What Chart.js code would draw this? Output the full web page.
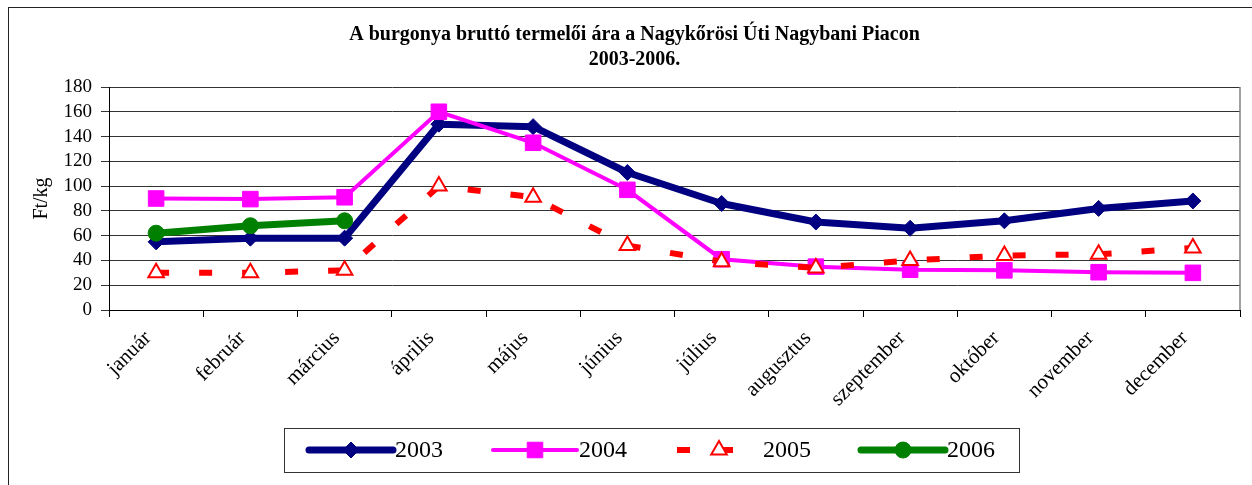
<!DOCTYPE html>
<html>
<head>
<meta charset="utf-8">
<script src="https://cdn.jsdelivr.net/npm/chart.js@4/dist/chart.umd.min.js"></script>
<style>
  body { margin: 0; background: #fff; }
  canvas { display: block; }
</style>
</head>
<body>
<canvas id="myLineChart" width="1252" height="485"></canvas>
<script>
// Burgonya ara, Ft/kg
var months = ["január", "február", "március", "április", "május", "június",
              "július", "augusztus", "szeptember", "október", "november", "december"];
var years = ["2003", "2004", "2005", "2006"];
var v2003 = [55, 58, 58, 150, 148, 111, 86, 71, 66, 72, 82, 88];
var v2004 = [90, 89.5, 91, 160, 135, 97, 41, 35, 32.5, 32, 30.5, 30];
var v2005 = [30, 30, 32, 100, 91, 52, 39, 34, 40, 44, 45, 50];
var v2006 = [62, 68, 72, null, null, null, null, null, null, null, null, null];
var yTicks = [0, 20, 40, 60, 80, 100, 120, 140, 160, 180];

var SERIF = "'Liberation Serif', 'Times New Roman', serif";

// draws one marker shape, used by the legend
function drawMarker(ctx, style, x, y, r, fill, stroke, bw) {
    ctx.save();
    ctx.beginPath();
    if (style == "rectRot") {
        ctx.moveTo(x, y - r); ctx.lineTo(x + r, y); ctx.lineTo(x, y + r); ctx.lineTo(x - r, y);
        ctx.closePath();
    } else if (style == "rect") {
        var s = r * Math.SQRT1_2;
        ctx.rect(x - s, y - s, 2 * s, 2 * s);
    } else if (style == "triangle") {
        ctx.moveTo(x, y - r);
        ctx.lineTo(x + r * Math.sin(2 * Math.PI / 3), y - r * Math.cos(2 * Math.PI / 3));
        ctx.lineTo(x + r * Math.sin(4 * Math.PI / 3), y - r * Math.cos(4 * Math.PI / 3));
        ctx.closePath();
    } else {
        ctx.arc(x, y, r, 0, Math.PI * 2);
    }
    ctx.fillStyle = fill;
    ctx.fill();
    ctx.lineWidth = bw;
    ctx.strokeStyle = stroke;
    ctx.stroke();
    ctx.restore();
}

var framePlugin = {
    id: "frame",
    beforeDatasetsDraw: function(chart) {
        var ctx = chart.ctx, a = chart.chartArea;
        ctx.save();
        ctx.strokeStyle = "#808080";
        ctx.lineWidth = 1.5;
        ctx.beginPath();
        ctx.moveTo(a.right, a.top);
        ctx.lineTo(a.right, a.bottom);
        ctx.stroke();
        ctx.restore();
    },
    afterDraw: function(chart) {
        var ctx = chart.ctx;
        ctx.save();
        // outer chart border
        ctx.strokeStyle = "#222";
        ctx.lineWidth = 1;
        ctx.strokeRect(8.5, 7.5, 2000, 1000);

        // legend box
        var bx = 284, by = 428, bw = 735, bh = 44;
        ctx.strokeStyle = "#333";
        ctx.strokeRect(bx + 0.5, by + 0.5, bw, bh);
        var cy = by + bh / 2;
        chart.data.datasets.forEach(function(ds, i) {
            var x0 = bx + 25 + i * 184;
            ctx.save();
            ctx.strokeStyle = ds.borderColor;
            ctx.lineWidth = ds.borderWidth;
            ctx.lineCap = ds.borderDash ? "butt" : "round";
            ctx.setLineDash(ds.borderDash || []);
            ctx.beginPath();
            ctx.moveTo(x0, cy);
            ctx.lineTo(x0 + 84, cy);
            ctx.stroke();
            ctx.restore();
            drawMarker(ctx, ds.pointStyle, x0 + 42, cy, ds.pointRadius,
                       ds.pointBackgroundColor, ds.pointBorderColor, ds.pointBorderWidth);
            ctx.fillStyle = "#000";
            ctx.font = "24px " + SERIF;
            ctx.textBaseline = "middle";
            ctx.textAlign = "left";
            ctx.fillText(ds.label, x0 + 86, cy + 1);
        });
        ctx.restore();
    }
};

var ctx = document.getElementById("myLineChart").getContext("2d");
var myLineChart = new Chart(ctx, {
    type: "line",
    data: {
        labels: months,
        datasets: [{
            label: years[0],
            data: v2003,
            borderColor: "#000080",
            backgroundColor: "#000080",
            borderWidth: 7,
            borderJoinStyle: "round",
            pointStyle: "rectRot",
            pointRadius: 8,
            pointBackgroundColor: "#000080",
            pointBorderColor: "#000080",
            pointBorderWidth: 1,
            order: 4
        }, {
            label: years[1],
            data: v2004,
            borderColor: "#ff00ff",
            backgroundColor: "#ff00ff",
            borderWidth: 4,
            pointStyle: "rect",
            pointRadius: 11,
            pointBackgroundColor: "#ff00ff",
            pointBorderColor: "#ff00ff",
            pointBorderWidth: 1,
            order: 3
        }, {
            label: years[2],
            data: v2005,
            borderColor: "#ff0000",
            backgroundColor: "#ff0000",
            borderWidth: 6,
            borderDash: [13, 30],
            borderCapStyle: "butt",
            pointStyle: "triangle",
            pointRadius: 9,
            pointBackgroundColor: "#ffffff",
            pointBorderColor: "#ff0000",
            pointBorderWidth: 2,
            order: 2
        }, {
            label: years[3],
            data: v2006,
            borderColor: "#008000",
            backgroundColor: "#008000",
            borderWidth: 7,
            pointStyle: "circle",
            pointRadius: 8,
            pointBackgroundColor: "#008000",
            pointBorderColor: "#008000",
            pointBorderWidth: 1,
            order: 1
        }]
    },
    options: {
        responsive: false,
        animation: false,
        spanGaps: false,
        layout: { padding: { top: 0, left: 23, right: 6, bottom: 75 } },
        elements: { line: { tension: 0 } },
        plugins: {
            legend: { display: false },
            tooltip: { enabled: false },
            title: {
                display: true,
                text: ["A burgonya bruttó termelői ára a Nagykőrösi Úti Nagybani Piacon", "2003-2006."],
                color: "#000",
                font: { family: SERIF, size: 20, weight: "bold", lineHeight: 1.25 },
                padding: { top: 22, bottom: 15 }
            }
        },
        scales: {
            x: {
                offset: true,
                grid: { offset: true, drawOnChartArea: false, drawTicks: true, tickLength: 7, color: "#000" },
                border: { color: "#000", width: 1 },
                ticks: {
                    color: "#000",
                    font: { family: SERIF, size: 21 },
                    minRotation: 45, maxRotation: 45,
                    padding: 9,
                    labelOffset: -8,
                    autoSkip: false
                },
                afterFit: function(scale) { scale.height = 100; }
            },
            y: {
                min: 0, max: 180,
                afterBuildTicks: function(scale) {
                    scale.ticks = yTicks.map(function(v) { return { value: v }; });
                },
                grid: { color: "#333", lineWidth: 1, tickLength: 8 },
                border: { color: "#000", width: 1 },
                ticks: {
                    color: "#000",
                    font: { family: SERIF, size: 19 },
                    padding: 9,
                    autoSkip: false
                },
                title: {
                    display: true,
                    text: "Ft/kg",
                    color: "#000",
                    font: { family: SERIF, size: 20 },
                    padding: { top: 7, bottom: 0 }
                },
                afterFit: function(scale) { scale.width = 86; }
            }
        }
    },
    plugins: [framePlugin]
});
</script>
</body>
</html>
